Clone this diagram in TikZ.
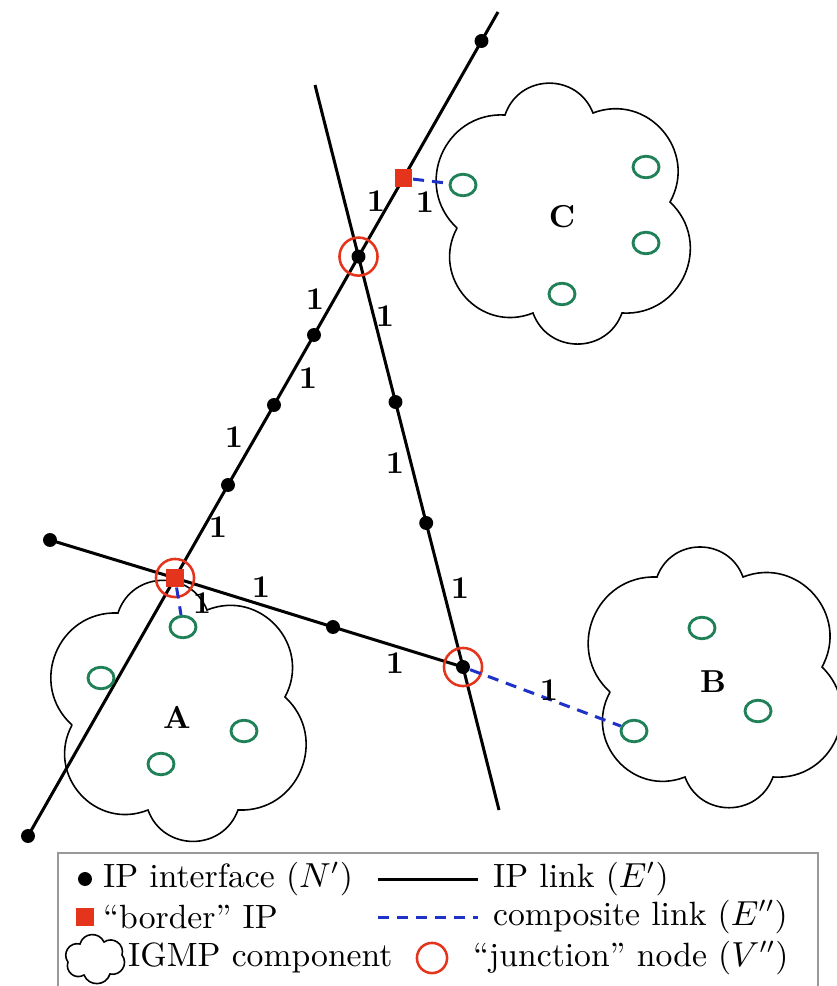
\documentclass[tikz,border=0pt]{standalone}
\usepackage{amsmath,amssymb}
\usetikzlibrary{shapes.geometric,backgrounds}

\definecolor{jred}{RGB}{228,52,28}
\definecolor{igreen}{RGB}{32,128,88}
\definecolor{cblue}{RGB}{30,50,200}

\begin{document}
\begin{tikzpicture}[x=0.315pt,y=-0.315pt,
  ipdot/.style={circle,fill=black,inner sep=0pt,minimum size=4.4pt},
  border/.style={rectangle,fill=jred,inner sep=0pt,minimum size=5.6pt},
  junction/.style={circle,draw=jred,line width=0.8pt,inner sep=0pt,minimum size=12pt},
  member/.style={ellipse,draw=igreen,line width=0.9pt,inner sep=0pt,minimum width=8.2pt,minimum height=6.8pt},
  iplink/.style={line width=0.95pt},
  comp/.style={cblue,line width=0.95pt,dash pattern=on 3.5pt off 2.5pt},
  weight/.style={font=\bfseries,inner sep=1pt},
  key/.style={anchor=west,font=\fontsize{10.6}{13}\selectfont},
  puff/.style={bend left=70,looseness=1.27},
  igmp/.style={line width=0.5pt}]
\useasboundingbox (0,0) rectangle (836,986);

% IGMP components
\draw[igmp] (72,725) to[puff] (118,613) to[puff] (207,610) to[puff] (285,697) to[puff] (238,810) to[puff] (148,810) to[puff] (72,725);
\draw[igmp] (610,692) to[puff] (657,577) to[puff] (743,577) to[puff] (822,667) to[puff] (773,777) to[puff] (685,777) to[puff] (610,692);
\draw[igmp] (457,228) to[puff] (505,115) to[puff] (593,113) to[puff] (670,202) to[puff] (622,313) to[puff] (533,313) to[puff] (457,228);

% IP interfaces
\node[ipdot] (a0) at (28,836) {};
\node[border] (sqA) at (175,578) {};
\node[ipdot] (a1) at (228,485) {};
\node[ipdot] (a2) at (274,405) {};
\node[ipdot] (a3) at (314,335) {};
\node[ipdot] (jC) at (358.5,256.6) {};
\node[border] (sqC) at (403.5,178) {};
\node[ipdot] (a4) at (481.5,41) {};
\coordinate (a5) at (498,12);
\coordinate (b0) at (315,85);
\node[ipdot] (b1) at (395.5,402) {};
\node[ipdot] (b2) at (426.2,523) {};
\node[ipdot] (jB) at (463,667) {};
\coordinate (b3) at (499,810);
\node[ipdot] (c0) at (50,540) {};
\node[ipdot] (c1) at (333,627) {};

\begin{pgfonlayer}{background}
\draw[iplink] (a0.center) -- (sqA.center) -- (a1.center) -- (a2.center) -- (a3.center) -- (jC.center) -- (sqC.center) -- (a4.center) -- (a5);
\draw[iplink] (b0) -- (jC.center) -- (b1.center) -- (b2.center) -- (jB.center) -- (b3);
\draw[iplink] (c0.center) -- (sqA.center) -- (c1.center) -- (jB.center);
\end{pgfonlayer}

% junction nodes
\node[junction] (vA) at (sqA) {};
\node[junction] (vC) at (jC) {};
\node[junction] (vB) at (jB) {};

% members
\node[member] (mA1) at (183,627) {};
\node[member] (mA2) at (101,678) {};
\node[member] (mA3) at (244,731) {};
\node[member] (mA4) at (161,764) {};
\node[member] (mB1) at (634,731) {};
\node[member] (mB2) at (702,628) {};
\node[member] (mB3) at (758,711) {};
\node[member] (mC1) at (463,185) {};
\node[member] (mC2) at (646,167) {};
\node[member] (mC3) at (646,243) {};
\node[member] (mC4) at (562,294) {};

\node[font=\bfseries] (lA) at (177,717) {A};
\node[font=\bfseries] (lB) at (713,682) {B};
\node[font=\bfseries] (lC) at (562,217) {C};

% composite links
\draw[comp] (sqA) -- (mA1);
\draw[comp] (sqC) -- (mC1);
\draw[comp] (jB) -- (mB1);

% weights
\node[weight] (w1) at (376,201) {1};
\node[weight] (w2) at (315,299) {1};
\node[weight] (w3) at (308,378) {1};
\node[weight] (w4) at (234,437) {1};
\node[weight] (w5) at (218,527) {1};
\node[weight] (w6) at (385,316) {1};
\node[weight] (w7) at (395,463) {1};
\node[weight] (w8) at (460,588) {1};
\node[weight] (w9) at (261,587) {1};
\node[weight] (w10) at (395,663) {1};
\node[weight] (w11) at (425,202) {1};
\node[weight] (w12) at (202,603) {1};
\node[weight] (w13) at (549,690) {1};

% legend
\draw[gray!80,line width=0.6pt] (58,853) rectangle (818,995);
\node[ipdot] (kDot) at (85,879) {};
\node[key] (kDotT) at (92,879) {IP interface ($N'$)};
\coordinate (kL0) at (378,879);
\coordinate (kL1) at (478,879);
\draw[iplink] (kL0) -- (kL1);
\node[key] (kLT) at (482,879) {IP link ($E'$)};
\node[border] (kSq) at (85,917) {};
\node[key] (kSqT) at (92,917) {“border” IP};
\coordinate (kC0) at (378,917);
\coordinate (kC1) at (478,917);
\draw[comp] (kC0) -- (kC1);
\node[key] (kCT) at (482,917) {composite link ($E''$)};
\draw[igmp] (68,962) to[puff] (80,944) to[puff] (104,942) to[puff] (122,955) to[puff] (110,974) to[puff] (84,975) to[puff] (68,962);
\node[key] (kGT) at (117,958) {IGMP component};
\node[junction,minimum size=9.5pt] (kJ) at (432,958) {};
\node[key] (kJT) at (462,958) {“junction” node ($V''$)};
\end{tikzpicture}
\end{document}
